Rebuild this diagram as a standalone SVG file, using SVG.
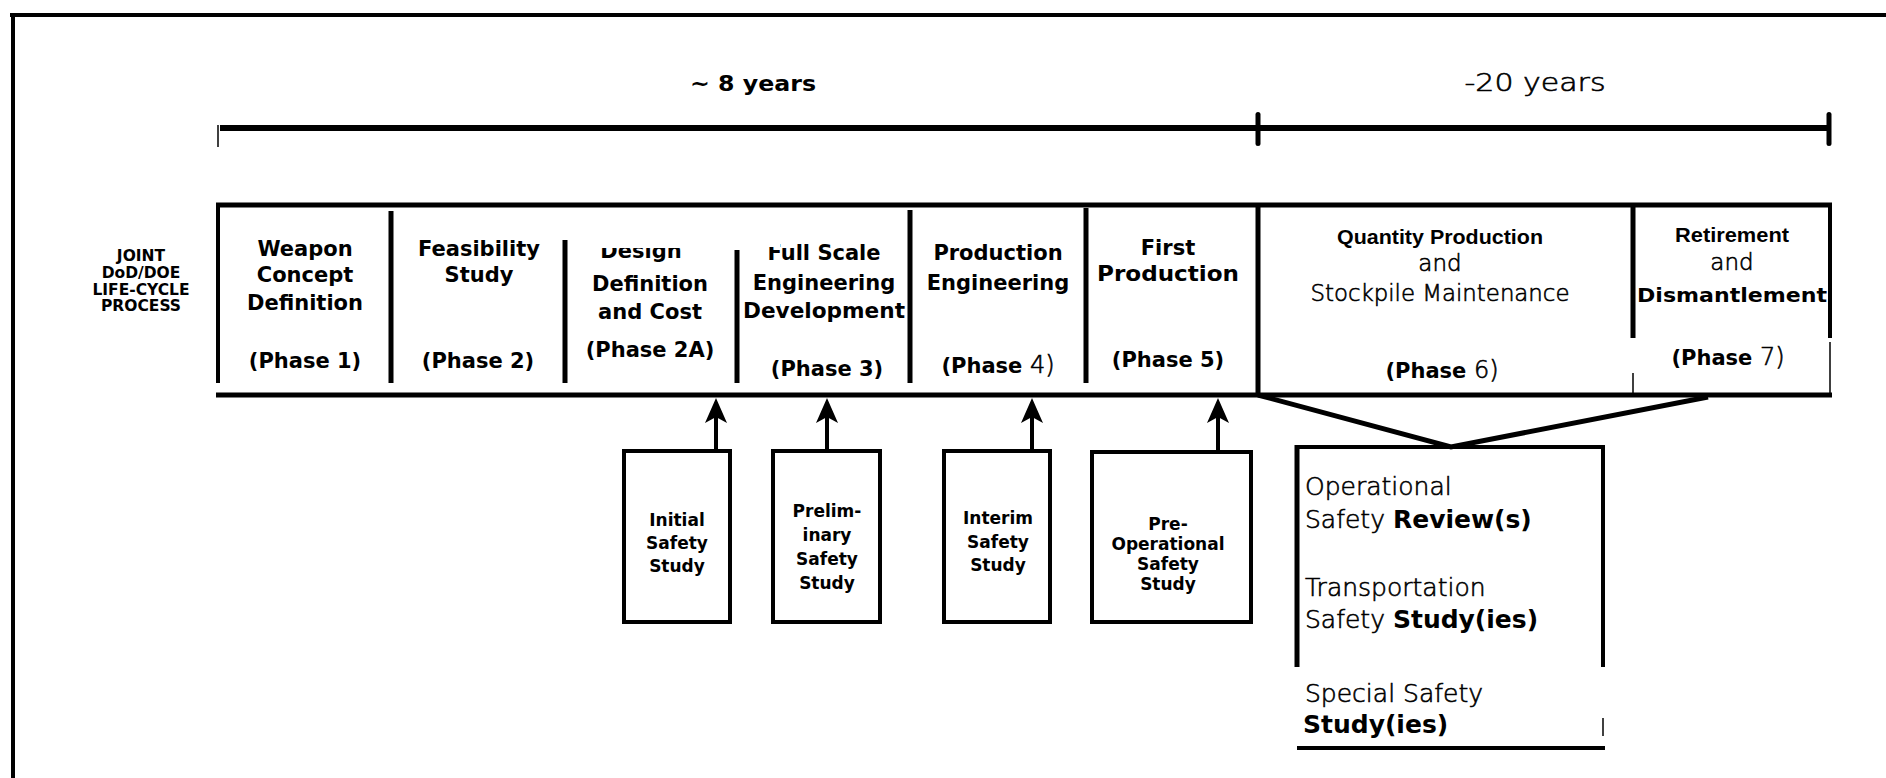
<svg xmlns="http://www.w3.org/2000/svg" width="1886" height="778" viewBox="0 0 1886 778">
<style>
.ln{stroke:#000;fill:none;stroke-linecap:butt}
.bx{stroke:#000;fill:#fff;stroke-width:4}
.b{font-family:"DejaVu Sans","Liberation Sans",sans-serif;font-weight:bold;fill:#000;stroke:none}
.h{font-family:"Liberation Sans",Arial,sans-serif;font-weight:bold;fill:#000}
.l{font-family:"DejaVu Sans","Liberation Sans",sans-serif;font-weight:200;fill:#000;stroke:#000;stroke-width:0.6}
.c{text-anchor:middle}
.s21{font-size:21px}
.s17{font-size:17px}
.s25{font-size:25px}
</style>
<defs>
<marker id="arr" markerUnits="userSpaceOnUse" viewBox="-26 -12 28 24" refX="-16" refY="0" markerWidth="28" markerHeight="24" orient="auto">
<path d="M0,0 L-25,-11 L-19,0 L-25,11 Z" fill="#000"/>
</marker>
<clipPath id="clipDesign"><rect x="560" y="248" width="170" height="30"/></clipPath>
<clipPath id="clipFull"><rect x="740" y="247" width="40" height="30"/><rect x="780" y="230" width="120" height="50"/></clipPath>
</defs>
<rect width="1886" height="778" fill="#fff"/>

<g id="frame" class="ln">
<line x1="10" y1="15" x2="1886" y2="15" stroke-width="4"/>
<line x1="13" y1="13" x2="13" y2="778" stroke-width="4"/>
</g>

<g id="timeline">
<line class="ln" x1="220" y1="128" x2="1829" y2="128" stroke-width="6"/>
<line class="ln" x1="218" y1="125" x2="218" y2="147" stroke-width="1.5"/>
<rect x="1255.5" y="112" width="5" height="34" rx="2.5"/>
<rect x="1826.5" y="112" width="5" height="34" rx="2.5"/>
<text class="b c" x="753" y="91" font-size="22" textLength="126" lengthAdjust="spacingAndGlyphs">~ 8 years</text>
<text class="l c" x="1535" y="91" font-size="25" textLength="141" lengthAdjust="spacingAndGlyphs">-20 years</text>
</g>

<g id="process-label">
<text class="b c" font-size="15.5" x="141" y="261">JOINT</text>
<text class="b c" font-size="15.5" x="141" y="278">DoD/DOE</text>
<text class="b c" font-size="15.5" x="141" y="295">LIFE-CYCLE</text>
<text class="b c" font-size="15.5" x="141" y="311">PROCESS</text>
</g>

<g id="phase-frame" class="ln">
<line x1="216" y1="205" x2="1832" y2="205" stroke-width="5"/>
<line x1="216" y1="395" x2="1832" y2="395" stroke-width="5"/>
<line x1="218" y1="205" x2="218" y2="383" stroke-width="4"/>
<line x1="391" y1="211" x2="391" y2="383" stroke-width="5"/>
<line x1="565" y1="240" x2="565" y2="383" stroke-width="5"/>
<line x1="737" y1="250" x2="737" y2="383" stroke-width="5"/>
<line x1="910" y1="210" x2="910" y2="383" stroke-width="5"/>
<line x1="1086" y1="208" x2="1086" y2="383" stroke-width="5"/>
<line x1="1258" y1="205" x2="1258" y2="395" stroke-width="5"/>
<line x1="1633" y1="205" x2="1633" y2="338" stroke-width="5"/>
<line x1="1633" y1="373" x2="1633" y2="395" stroke-width="1.5"/>
<line x1="1830" y1="205" x2="1830" y2="338" stroke-width="4"/>
<line x1="1830" y1="342" x2="1830" y2="395" stroke-width="1.5"/>
</g>

<g id="phase1">
<text class="b c s21" x="305" y="256">Weapon</text>
<text class="b c s21" x="305" y="282">Concept</text>
<text class="b c s21" x="305" y="310">Definition</text>
<text class="b c s21" x="305" y="368">(Phase 1)</text>
</g>
<g id="phase2">
<text class="b c s21" x="479" y="256">Feasibility</text>
<text class="b c s21" x="479" y="282">Study</text>
<text class="b c s21" x="478" y="368">(Phase 2)</text>
</g>
<g id="phase2a">
<text class="b c s21" x="641" y="258" clip-path="url(#clipDesign)">Design</text>
<text class="b c s21" x="650" y="291">Definition</text>
<text class="b c s21" x="650" y="319">and Cost</text>
<text class="b c s21" x="650" y="357">(Phase 2A)</text>
</g>
<g id="phase3">
<text class="b c s21" x="824" y="260" clip-path="url(#clipFull)">Full Scale</text>
<text class="b c s21" x="824" y="290">Engineering</text>
<text class="b c s21" x="824" y="318" textLength="162" lengthAdjust="spacingAndGlyphs">Development</text>
<text class="b c s21" x="827" y="376">(Phase 3)</text>
</g>
<g id="phase4">
<text class="b c s21" x="998" y="260">Production</text>
<text class="b c s21" x="998" y="290">Engineering</text>
<text class="c" x="998" y="373"><tspan class="b s21">(Phase</tspan><tspan class="l" font-size="24"> 4)</tspan></text>
</g>
<g id="phase5">
<text class="b c s21" x="1168" y="255">First</text>
<text class="b c s21" x="1168" y="281" textLength="142" lengthAdjust="spacingAndGlyphs">Production</text>
<text class="b c s21" x="1168" y="367">(Phase 5)</text>
</g>
<g id="phase6">
<text class="h c s21" x="1440" y="244" textLength="206" lengthAdjust="spacingAndGlyphs">Quantity  Production</text>
<text class="l c" font-size="23" x="1440" y="271">and</text>
<text class="l c" font-size="23" x="1440" y="301" textLength="259" lengthAdjust="spacingAndGlyphs">Stockpile Maintenance</text>
<text class="c" x="1442" y="378"><tspan class="b s21">(Phase</tspan><tspan class="l" font-size="24"> 6)</tspan></text>
</g>
<g id="phase7">
<text class="h c s21" x="1732" y="242" textLength="114" lengthAdjust="spacingAndGlyphs">Retirement</text>
<text class="l c" font-size="23" x="1732" y="270">and</text>
<text class="b c" font-size="20" x="1732" y="302" textLength="190" lengthAdjust="spacingAndGlyphs">Dismantlement</text>
<text class="c" x="1728" y="365"><tspan class="b s21">(Phase</tspan><tspan class="l" font-size="24"> 7)</tspan></text>
</g>

<g id="initial-safety-study">
<rect class="bx" x="624" y="451" width="106" height="171"/>
<text class="b c s17" x="677" y="526">Initial</text>
<text class="b c s17" x="677" y="549">Safety</text>
<text class="b c s17" x="677" y="572">Study</text>
</g>
<g id="preliminary-safety-study">
<rect class="bx" x="773" y="451" width="107" height="171"/>
<text class="b c s17" x="827" y="517">Prelim-</text>
<text class="b c s17" x="827" y="541">inary</text>
<text class="b c s17" x="827" y="565">Safety</text>
<text class="b c s17" x="827" y="589">Study</text>
</g>
<g id="interim-safety-study">
<rect class="bx" x="944" y="451" width="106" height="171"/>
<text class="b c s17" x="998" y="524">Interim</text>
<text class="b c s17" x="998" y="548">Safety</text>
<text class="b c s17" x="998" y="571">Study</text>
</g>
<g id="pre-operational-safety-study">
<rect class="bx" x="1092" y="452" width="159" height="170"/>
<text class="b c s17" x="1168" y="530">Pre-</text>
<text class="b c s17" x="1168" y="550">Operational</text>
<text class="b c s17" x="1168" y="570">Safety</text>
<text class="b c s17" x="1168" y="590">Study</text>
</g>

<g id="operational-studies">
<g class="ln">
<line x1="1297" y1="445" x2="1297" y2="667" stroke-width="5"/>
<line x1="1295" y1="447" x2="1605" y2="447" stroke-width="4"/>
<line x1="1603" y1="447" x2="1603" y2="667" stroke-width="4"/>
<line x1="1603" y1="718" x2="1603" y2="736" stroke-width="1.5"/>
<line x1="1297" y1="748" x2="1605" y2="748" stroke-width="4"/>
</g>
<text class="l s25" x="1305" y="495">Operational</text>
<text class="l s25" x="1305" y="528">Safety <tspan class="b">Review(s)</tspan></text>
<text class="l s25" x="1305" y="596">Transportation</text>
<text class="l s25" x="1305" y="628">Safety <tspan class="b">Study(ies)</tspan></text>
<text class="l s25" x="1305" y="702">Special Safety</text>
<text class="b s25" x="1303" y="733">Study(ies)</text>
</g>

<g id="connectors" class="ln">
<line x1="716" y1="451" x2="716" y2="414" stroke-width="4" marker-end="url(#arr)"/>
<line x1="827" y1="451" x2="827" y2="414" stroke-width="4" marker-end="url(#arr)"/>
<line x1="1032" y1="451" x2="1032" y2="414" stroke-width="4" marker-end="url(#arr)"/>
<line x1="1218" y1="452" x2="1218" y2="414" stroke-width="4" marker-end="url(#arr)"/>
<polyline points="1258,395 1451,447 1708,397" stroke-width="5" stroke-linejoin="miter"/>
</g>
</svg>
